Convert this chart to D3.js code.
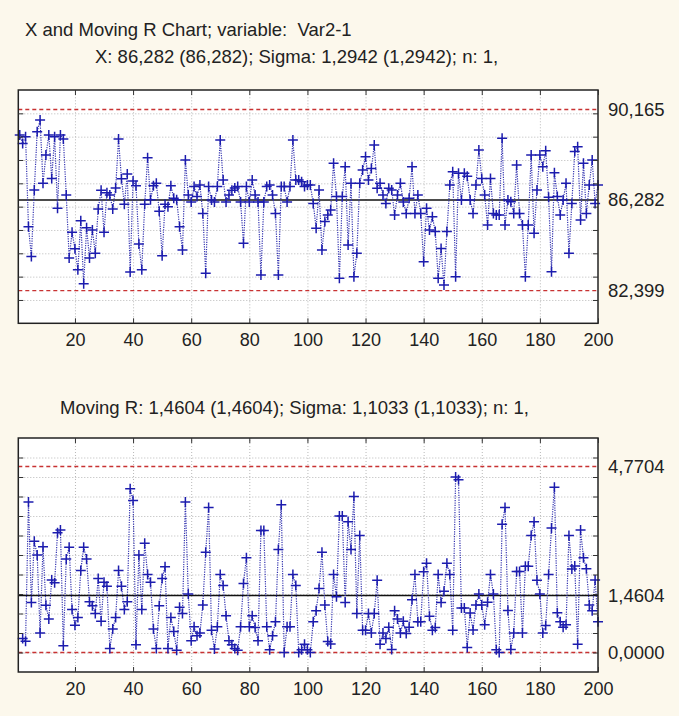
<!DOCTYPE html>
<html>
<head>
<meta charset="utf-8">
<script src="https://cdn.jsdelivr.net/npm/d3@7"></script>
<style>
  html, body { margin: 0; padding: 0; background: #fcf8ec; }
  svg { display: block; }
  text { font-family: "Liberation Sans", Arial, sans-serif; fill: #222; white-space: pre; }
</style>
</head>
<body>
<div id="chart"></div>
<script>
// Individual observations (Var2-1), n = 200
const xValues = [
  89.07, 88.71, 89.0, 85.14, 83.86, 86.71, 89.21, 89.71, 87.0, 88.21,
  89.07, 87.21, 89.0, 85.93, 89.07, 88.9, 86.5, 83.8, 84.9, 84.2,
  83.3, 85.4, 82.7, 85.1, 83.8, 85.0, 84.0, 85.9, 86.7, 84.9,
  86.6, 86.5, 85.9, 86.8, 88.9, 87.2, 86.1, 87.4, 83.2, 87.1,
  86.9, 84.4, 83.3, 86.1, 88.1, 86.3, 86.9, 87.0, 85.8, 83.9,
  86.1, 86.0, 86.9, 86.36, 86.3, 85.14, 84.14, 88.0, 86.5, 86.2,
  86.86, 86.43, 86.93, 85.71, 83.14, 86.86, 86.29, 86.2, 86.86, 88.86,
  87.14, 86.2, 86.5, 86.7, 86.8, 86.86, 86.2, 84.43, 86.86, 86.2,
  87.14, 86.5, 86.2, 83.07, 86.2, 86.86, 86.93, 86.5, 85.71, 83.07,
  86.86, 86.86, 86.2, 86.86, 88.86, 87.14, 87.14, 87.07, 86.86, 86.93,
  86.93, 86.14, 85.07, 86.71, 84.14, 85.36, 85.64, 85.86, 87.86, 86.43,
  82.93, 86.43, 87.71, 84.36, 87.0, 83.0, 84.0, 87.0, 87.57, 88.14,
  87.14, 87.64, 88.64, 86.79, 87.0, 86.5, 86.14, 86.79, 86.71, 85.64,
  86.5, 87.0, 86.2, 85.71, 86.36, 87.71, 85.71, 86.5, 85.71, 83.64,
  85.93, 85.0, 85.57, 84.93, 82.93, 84.21, 82.64, 84.93, 86.93, 87.5,
  83.0, 87.43, 86.29, 87.43, 87.3, 86.29, 85.71, 86.93, 88.43, 87.21,
  86.5, 85.21, 87.21, 85.71, 85.64, 85.64, 88.93, 85.21, 86.29, 86.21,
  85.71, 87.79, 85.71, 85.21, 83.0, 85.21, 88.21, 84.86, 86.71, 88.21,
  87.71, 88.4, 86.4, 83.21, 87.45, 86.43, 85.64, 86.29, 87.0, 84.0,
  86.14, 88.36, 88.57, 85.43, 87.86, 85.71, 86.93, 88.0, 86.14, 86.93
];

// Moving ranges, observations 2..200
const mrValues = [
  0.36, 0.29, 3.86, 1.28, 2.85, 2.5, 0.5, 2.71, 1.21,
  0.86, 1.86, 1.79, 3.07, 3.14, 0.17, 2.4, 2.7, 1.1, 0.7,
  0.9, 2.1, 2.7, 2.4, 1.3, 1.2, 1.0, 1.9, 0.8, 1.8,
  1.7, 0.1, 0.6, 0.9, 2.1, 1.7, 1.1, 1.3, 4.2, 3.9,
  0.2, 2.5, 1.1, 2.8, 2.0, 1.8, 0.6, 0.1, 1.2, 1.9,
  2.2, 0.1, 0.9, 0.54, 0.06, 1.16, 1.0, 3.86, 1.5, 0.3,
  0.66, 0.43, 0.5, 1.22, 2.57, 3.72, 0.57, 0.09, 0.66, 2.0,
  1.72, 0.94, 0.3, 0.2, 0.1, 0.06, 0.66, 1.77, 2.43, 0.66,
  0.94, 0.64, 0.3, 3.13, 3.13, 0.66, 0.07, 0.43, 0.79, 2.64,
  3.79, 0.0, 0.66, 0.66, 2.0, 1.72, 0.0, 0.07, 0.21, 0.07,
  0.0, 0.79, 1.07, 1.64, 2.57, 1.22, 0.28, 0.22, 2.0, 1.43,
  3.5, 3.5, 1.28, 3.35, 2.64, 4.0, 1.0, 3.0, 0.57, 0.57,
  1.0, 0.5, 1.0, 1.85, 0.21, 0.5, 0.36, 0.65, 0.08, 1.07,
  0.86, 0.5, 0.8, 0.49, 0.65, 1.35, 2.0, 0.79, 0.79, 2.07,
  2.29, 0.93, 0.57, 0.64, 2.0, 1.28, 1.57, 2.29, 2.0, 0.57,
  4.5, 4.43, 1.14, 1.14, 0.13, 1.01, 0.58, 1.22, 1.5, 1.22,
  0.71, 1.29, 2.0, 1.5, 0.07, 0.0, 3.29, 3.72, 1.08, 0.08,
  0.5, 2.08, 2.08, 0.5, 2.21, 2.21, 3.0, 3.35, 1.85, 1.5,
  0.5, 0.69, 2.0, 3.19, 4.24, 1.02, 0.79, 0.65, 0.71, 3.0,
  2.14, 2.22, 0.21, 3.14, 2.43, 2.15, 1.22, 1.07, 1.86, 0.79
];

// Control limits: [UCL, center, LCL]
const xLimits = [90.165, 86.282, 82.399];
const mrLimits = [4.7704, 1.4604, 0.0];

const xTicks = [20, 40, 60, 80, 100, 120, 140, 160, 180, 200];
const xGridTop = [82, 83, 84, 85, 86, 87, 88, 89, 90];
const mrGrid = [0, 0.5, 1, 1.5, 2, 2.5, 3, 3.5, 4, 4.5, 5];

const titleLines = [
  "X and Moving R Chart; variable:  Var2-1",
  "X: 86,282 (86,282); Sigma: 1,2942 (1,2942); n: 1,"
];
const mrTitle = "Moving R: 1,4604 (1,4604); Sigma: 1,1033 (1,1033); n: 1,";

const W = 679, H = 716;
const left = 18.3, right = 598;

const locale = d3.formatLocale({decimal: ",", thousands: ".", grouping: [3], currency: ["", ""]});

const svg = d3.select("#chart").append("svg")
  .attr("width", W).attr("height", H);

svg.append("rect").attr("width", W).attr("height", H).attr("fill", "#fcf8ec");

const x = d3.scaleLinear().domain([0.5, 200]).range([left, right]);

// Titles
svg.append("text").attr("x", 25).attr("y", 36).attr("font-size", 18.5).text(titleLines[0]);
svg.append("text").attr("x", 95).attr("y", 63).attr("font-size", 18.5).text(titleLines[1]);
svg.append("text").attr("x", 60).attr("y", 414).attr("font-size", 18.5).text(mrTitle);

function panel(y, top, bottom, data, startIndex, grid, limits, fmt) {
  const g = svg.append("g");

  g.append("rect")
    .attr("x", left).attr("y", top)
    .attr("width", right - left).attr("height", bottom - top)
    .attr("fill", "#fff");

  // vertical grid
  g.append("g")
    .attr("transform", "translate(0," + bottom + ")")
    .call(d3.axisBottom(x).tickValues(xTicks.slice(0, -1)).tickSize(-(bottom - top)).tickFormat(""))
    .call(a => a.select(".domain").remove())
    .call(a => a.selectAll("line").attr("stroke", "#b8b8b8").attr("stroke-dasharray", "1,2"));

  // horizontal grid
  g.append("g")
    .attr("transform", "translate(" + left + ",0)")
    .call(d3.axisLeft(y).tickValues(grid).tickSize(-(right - left)).tickFormat(""))
    .call(a => a.select(".domain").remove())
    .call(a => a.selectAll("line").attr("stroke", "#b8b8b8").attr("stroke-dasharray", "1,2"));

  // control limits
  g.selectAll(".limit")
    .data(limits)
    .enter().append("line")
    .attr("x1", left).attr("x2", right)
    .attr("y1", d => y(d)).attr("y2", d => y(d))
    .attr("stroke", (d, i) => i === 1 ? "#111" : "#c83232")
    .attr("stroke-width", (d, i) => i === 1 ? 1.6 : 1.4)
    .attr("stroke-dasharray", (d, i) => i === 1 ? null : "4,3");

  // data line
  const line = d3.line()
    .x((d, i) => x(i + startIndex))
    .y(d => y(d));

  g.append("path")
    .datum(data)
    .attr("d", line)
    .attr("fill", "none")
    .attr("stroke", "#3434b0")
    .attr("stroke-width", 1.2)
    .attr("stroke-dasharray", "1.2,1.2");

  // markers
  g.selectAll(".pt")
    .data(data)
    .enter().append("path")
    .attr("transform", (d, i) => "translate(" + x(i + startIndex) + "," + y(d) + ")")
    .attr("d", "M-5,0H5M0,-5V5")
    .attr("stroke", "#1c1cae")
    .attr("stroke-width", 1.5)
    .attr("fill", "none");

  // frame
  g.append("rect")
    .attr("x", left).attr("y", top)
    .attr("width", right - left).attr("height", bottom - top)
    .attr("fill", "none").attr("stroke", "#222").attr("stroke-width", 1.5);

  // inward ticks
  g.append("g").attr("transform", "translate(0," + top + ")")
    .call(d3.axisTop(x).tickValues(xTicks).tickSize(-5).tickFormat(""))
    .call(a => a.select(".domain").remove())
    .call(a => a.selectAll("line").attr("stroke", "#333"));
  g.append("g").attr("transform", "translate(0," + bottom + ")")
    .call(d3.axisBottom(x).tickValues(xTicks).tickSize(-5).tickFormat(""))
    .call(a => a.select(".domain").remove())
    .call(a => a.selectAll("line").attr("stroke", "#333"));
  g.append("g").attr("transform", "translate(" + left + ",0)")
    .call(d3.axisLeft(y).tickValues(grid).tickSize(-5).tickFormat(""))
    .call(a => a.select(".domain").remove())
    .call(a => a.selectAll("line").attr("stroke", "#333"));
  g.append("g").attr("transform", "translate(" + right + ",0)")
    .call(d3.axisRight(y).tickValues(grid).tickSize(-5).tickFormat(""))
    .call(a => a.select(".domain").remove())
    .call(a => a.selectAll("line").attr("stroke", "#333"));

  // x labels
  g.append("g").attr("transform", "translate(0," + bottom + ")")
    .call(d3.axisBottom(x).tickValues(xTicks).tickSize(0).tickPadding(10))
    .call(a => a.select(".domain").remove())
    .call(a => a.selectAll("text").attr("font-size", 18).attr("fill", "#222")
      .attr("font-family", "'Liberation Sans', Arial, sans-serif"));

  // limit labels
  g.append("g").attr("transform", "translate(" + right + ",0)")
    .call(d3.axisRight(y).tickValues(limits).tickSize(0).tickPadding(10).tickFormat(locale.format(fmt)))
    .call(a => a.select(".domain").remove())
    .call(a => a.selectAll("text").attr("font-size", 18.5).attr("fill", "#333")
      .attr("font-family", "'Liberation Sans', Arial, sans-serif"));
}

const yTop = d3.scaleLinear().domain([81, 91]).range([323.3, 90]);
panel(yTop, 90, 323.3, xValues, 1, xGridTop, xLimits, ".3f");

const yBot = d3.scaleLinear().domain([-0.5, 5.5]).range([672, 438]);
panel(yBot, 438, 672, mrValues, 2, mrGrid, mrLimits, ".4f");
</script>
</body>
</html>
